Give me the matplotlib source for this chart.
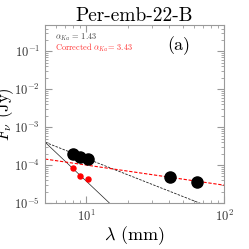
import numpy as np
import matplotlib
matplotlib.use("Agg")
import matplotlib.pyplot as plt

plt.rcParams['mathtext.fontset'] = 'cm'
plt.rcParams['font.family'] = 'cmr10'
plt.rcParams['axes.formatter.use_mathtext'] = True

# data
wl_obs = [8.0, 8.9, 10.2, 40.4, 63.5]
flux_obs = [1.95e-4, 1.6e-4, 1.45e-4, 4.8e-5, 3.6e-5]
wl_corr = [8.0, 8.9, 10.2]
flux_corr = [8.3e-5, 5.1e-5, 4.3e-5]
alpha_ka = 1.43
alpha_corr = 3.43
anchor_flux = 4.0e-4  # at 5 mm
red_fit_flux5 = 1.44e-4
red_fit_slope = 0.53

fig = plt.figure(figsize=(2.49, 2.49), dpi=100)
ax = fig.add_axes([0.181, 0.185, 0.719, 0.715])

lam = np.logspace(np.log10(5), np.log10(100), 100)
ax.plot(lam, anchor_flux * (lam / 5) ** (-alpha_ka), color='#222222', ls='--', lw=0.6, dashes=(3, 1.5))
ax.plot(lam, anchor_flux * (lam / 5) ** (-alpha_corr), color='#222222', ls='-', lw=0.5)
ax.plot(lam, red_fit_flux5 * (lam / 5) ** (-red_fit_slope), color='red', ls='--', lw=0.8, dashes=(3, 1.5))

ax.plot(wl_obs, flux_obs, 'o', color='black', ms=8, zorder=3)
ax.plot(wl_corr, flux_corr, 'o', color='red', ms=3.6, zorder=3)

ax.set_xscale('log')
ax.set_yscale('log')
ax.set_xlim(5, 100)
ax.set_ylim(1e-5, 0.5)
ax.set_yticks([1e-5, 1e-4, 1e-3, 1e-2, 1e-1])

for s in ax.spines.values():
    s.set_color('#999999')
    s.set_linewidth(0.8)
ax.tick_params(which='both', direction='in', top=True, right=True, color='#999999', labelsize=9,
               labelcolor='#333333')
ax.tick_params(which='major', length=5)
ax.tick_params(which='minor', length=2.5)
ax.tick_params(axis='x', pad=4)

ax.set_xlabel(r'$\lambda$ (mm)', fontsize=13)
ax.xaxis.set_label_coords(0.5, -0.12)
ax.set_ylabel(r'$F_\nu$ (Jy)', fontsize=12)
ax.yaxis.set_label_coords(-0.162, 0.5)
ax.set_title('Per-emb-22-B', fontsize=14, pad=3)

ax.text(0.055, 0.93, r'$\alpha_{Ka}$ = 1.43', transform=ax.transAxes, fontsize=6,
        color='#444444', va='center', ha='left')
ax.text(0.055, 0.872, r'Corrected $\alpha_{Ka}$= 3.43', transform=ax.transAxes, fontsize=6,
        color='#ff3333', va='center', ha='left')
ax.text(0.745, 0.885, '(a)', transform=ax.transAxes, fontsize=13, ha='center', va='center')

fig.savefig('out.png', dpi=100)
